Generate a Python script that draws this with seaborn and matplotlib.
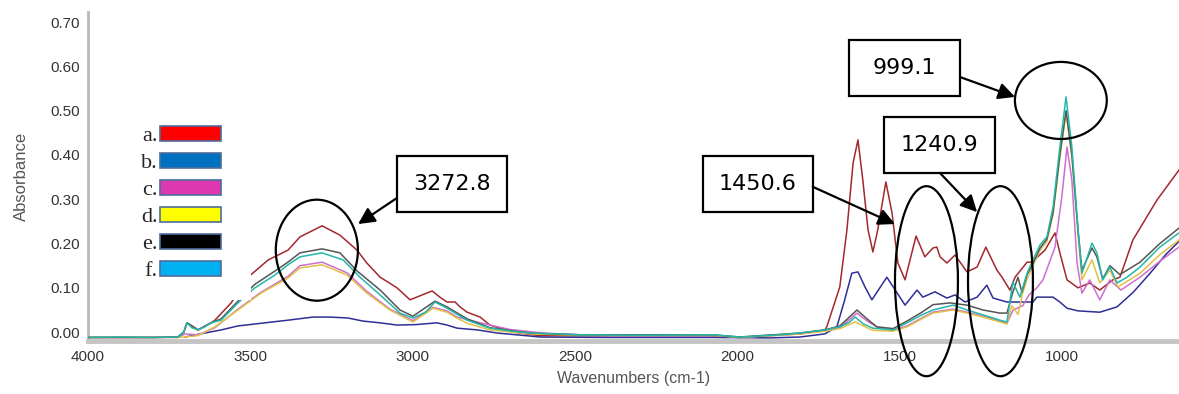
import matplotlib
matplotlib.use('Agg')
import numpy as np
import pandas as pd
import matplotlib.pyplot as plt
import matplotlib.patches as mpatches
from matplotlib.ticker import MultipleLocator, FormatStrFormatter
import seaborn as sns

# FTIR spectra, wavenumber (cm-1) vs absorbance
wn_a = [4000, 3800, 3723, 3705, 3695, 3661, 3621, 3609, 3559, 3507,
        3445, 3384, 3347, 3279, 3224, 3171, 3141, 3100, 3048, 3008,
        2940, 2916, 2894, 2869, 2854, 2832, 2792, 2762, 2691, 2608,
        2484, 2075, 1992, 1807, 1730, 1724, 1684, 1662, 1643, 1628,
        1613, 1597, 1582, 1567, 1542, 1523, 1505, 1483, 1449, 1422,
        1397, 1385, 1375, 1354, 1329, 1292, 1261, 1234, 1200, 1184,
        1160, 1144, 1107, 1092, 1052, 1021, 1006, 984, 950, 914,
        883, 843, 821, 781, 707, 639]
ab_a = [-0.012, -0.012, -0.011, 0.0, 0.021, 0.005, 0.021, 0.027, 0.066, 0.124,
        0.163, 0.185, 0.215, 0.240, 0.219, 0.185, 0.156, 0.124, 0.100, 0.073,
        0.093, 0.079, 0.068, 0.068, 0.057, 0.045, 0.034, 0.016, 0.000, -0.008,
        -0.008, -0.008, -0.012, -0.004, 0.005, 0.012, 0.102, 0.231, 0.382, 0.434,
        0.343, 0.231, 0.181, 0.231, 0.339, 0.269, 0.156, 0.118, 0.217, 0.170,
        0.190, 0.192, 0.170, 0.156, 0.174, 0.136, 0.147, 0.192, 0.140, 0.124,
        0.095, 0.124, 0.158, 0.158, 0.185, 0.224, 0.179, 0.118, 0.100, 0.111,
        0.095, 0.118, 0.124, 0.208, 0.298, 0.366]

wn_b = [3701, 3640, 3590, 3538, 3467, 3384, 3307, 3255, 3200, 3153,
        3100, 3048, 2990, 2925, 2894, 2863, 2800, 2740, 2650, 2608,
        2400, 2075, 1900, 1807, 1730, 1693, 1670, 1647, 1628, 1605,
        1585, 1539, 1483, 1446, 1428, 1391, 1354, 1329, 1298, 1261,
        1231, 1212, 1169, 1120, 1089, 1077, 1027, 1006, 984, 950,
        883, 830, 780, 728, 680, 639]
ab_b = [-0.011, -0.002, 0.005, 0.014, 0.020, 0.027, 0.034, 0.034, 0.032, 0.025,
        0.021, 0.016, 0.017, 0.021, 0.016, 0.009, 0.005, -0.002, -0.008, -0.011,
        -0.012, -0.012, -0.013, -0.011, -0.004, 0.012, 0.070, 0.133, 0.136, 0.100,
        0.073, 0.124, 0.061, 0.095, 0.079, 0.091, 0.077, 0.084, 0.068, 0.079,
        0.106, 0.077, 0.068, 0.068, 0.068, 0.079, 0.079, 0.068, 0.054, 0.048,
        0.045, 0.057, 0.090, 0.133, 0.175, 0.205]

wn_c = [4000, 3800, 3723, 3701, 3661, 3609, 3538, 3467, 3384, 3347,
        3279, 3202, 3141, 3070, 2999, 2937, 2894, 2863, 2792, 2700,
        2600, 2484, 2075, 1992, 1807, 1730, 1684, 1631, 1600, 1570,
        1520, 1477, 1431, 1397, 1335, 1292, 1243, 1191, 1169, 1150,
        1120, 1100, 1077, 1058, 1021, 1000, 984, 969, 953, 938,
        914, 883, 852, 818, 759, 698, 639]
ab_c = [-0.012, -0.012, -0.012, -0.004, -0.006, 0.010, 0.052, 0.090, 0.126, 0.150,
        0.158, 0.134, 0.092, 0.052, 0.026, 0.056, 0.048, 0.034, 0.021, 0.006,
        -0.002, -0.006, -0.007, -0.012, -0.003, 0.003, 0.010, 0.043, 0.025, 0.012,
        0.004, 0.014, 0.032, 0.045, 0.052, 0.045, 0.036, 0.025, 0.020, 0.050,
        0.060, 0.085, 0.100, 0.118, 0.192, 0.305, 0.418, 0.343, 0.156, 0.088,
        0.118, 0.073, 0.118, 0.095, 0.124, 0.160, 0.192]

wn_d = [4000, 3800, 3723, 3661, 3609, 3538, 3467, 3384, 3347, 3279,
        3202, 3141, 3070, 2999, 2937, 2894, 2869, 2832, 2762, 2638,
        2484, 2075, 1992, 1807, 1730, 1684, 1637, 1600, 1582, 1520,
        1477, 1431, 1397, 1335, 1292, 1243, 1191, 1169, 1154, 1135,
        1120, 1107, 1089, 1067, 1046, 1027, 1006, 987, 969, 950,
        938, 907, 883, 852, 827, 759, 698, 639]
ab_d = [-0.012, -0.012, -0.012, -0.008, 0.012, 0.050, 0.088, 0.122, 0.145, 0.152,
        0.129, 0.088, 0.050, 0.023, 0.054, 0.045, 0.034, 0.020, 0.005, -0.004,
        -0.007, -0.007, -0.012, -0.004, 0.002, 0.008, 0.023, 0.010, 0.004, 0.002,
        0.012, 0.030, 0.043, 0.050, 0.043, 0.034, 0.023, 0.018, 0.060, 0.040,
        0.090, 0.120, 0.150, 0.185, 0.205, 0.265, 0.395, 0.495, 0.395, 0.220,
        0.118, 0.163, 0.111, 0.140, 0.102, 0.133, 0.175, 0.208]

wn_e = [4000, 3800, 3723, 3705, 3695, 3661, 3621, 3590, 3538, 3486,
        3424, 3384, 3347, 3279, 3224, 3171, 3100, 3039, 2999, 2931,
        2894, 2832, 2762, 2638, 2484, 2075, 1992, 1807, 1730, 1684,
        1631, 1600, 1570, 1520, 1477, 1431, 1397, 1345, 1292, 1243,
        1191, 1169, 1151, 1135, 1123, 1107, 1089, 1067, 1046, 1027,
        1006, 987, 969, 950, 938, 907, 892, 874, 852, 821,
        759, 698, 639]
ab_e = [-0.012, -0.012, -0.011, 0.0, 0.021, 0.005, 0.021, 0.030, 0.070, 0.108,
        0.138, 0.158, 0.179, 0.188, 0.179, 0.138, 0.095, 0.050, 0.036, 0.070,
        0.057, 0.030, 0.010, -0.002, -0.006, -0.006, -0.011, -0.002, 0.005, 0.014,
        0.050, 0.030, 0.012, 0.008, 0.025, 0.045, 0.062, 0.066, 0.061, 0.050,
        0.043, 0.043, 0.090, 0.124, 0.090, 0.130, 0.155, 0.190, 0.210, 0.270,
        0.400, 0.500, 0.400, 0.230, 0.140, 0.190, 0.170, 0.120, 0.150, 0.130,
        0.158, 0.200, 0.235]

wn_f = [4000, 3900, 3800, 3723, 3705, 3695, 3680, 3661, 3640, 3621,
        3590, 3538, 3486, 3424, 3384, 3347, 3279, 3214, 3162, 3100,
        3039, 2999, 2960, 2931, 2894, 2832, 2762, 2691, 2638, 2484,
        2300, 2075, 1992, 1868, 1807, 1730, 1684, 1655, 1637, 1610,
        1582, 1520, 1477, 1431, 1397, 1335, 1292, 1243, 1191, 1169,
        1151, 1129, 1107, 1089, 1067, 1046, 1027, 1006, 987, 969,
        950, 938, 907, 892, 874, 852, 830, 799, 759, 698,
        639]
ab_f = [-0.012, -0.011, -0.012, -0.011, 0.000, 0.021, 0.010, 0.005, 0.012, 0.021,
        0.027, 0.066, 0.100, 0.129, 0.152, 0.170, 0.179, 0.163, 0.124, 0.084,
        0.043, 0.032, 0.045, 0.068, 0.054, 0.027, 0.009, 0.002, -0.002, -0.006,
        -0.007, -0.006, -0.011, -0.006, -0.002, 0.005, 0.012, 0.022, 0.034, 0.018,
        0.009, 0.005, 0.021, 0.039, 0.050, 0.061, 0.050, 0.039, 0.027, 0.023,
        0.113, 0.079, 0.133, 0.163, 0.197, 0.215, 0.282, 0.418, 0.531, 0.418,
        0.231, 0.133, 0.201, 0.179, 0.118, 0.147, 0.111, 0.124, 0.147, 0.192,
        0.224]

samples = ['a.', 'b.', 'c.', 'd.', 'e.', 'f.']
line_colors = ['#a3282e', '#2e2f96', '#cc6fd0', '#e3c146', '#555555', '#22b7aa']
legend_colors = ['#ff0000', '#0070c0', '#dd38b0', '#ffff00', '#000000', '#00b0f0']

peak_labels = ['3272.8', '1450.6', '1240.9', '999.1']

frames = []
for s, wn, ab in zip(samples, [wn_a, wn_b, wn_c, wn_d, wn_e, wn_f],
                     [ab_a, ab_b, ab_c, ab_d, ab_e, ab_f]):
    frames.append(pd.DataFrame({'wavenumber': wn, 'absorbance': ab, 'sample': s}))
df = pd.concat(frames, ignore_index=True)

sns.set_style('white')
plt.rcParams['font.family'] = ['Liberation Sans', 'DejaVu Sans']

fig = plt.figure(figsize=(11.79, 3.94), dpi=100)
ax = fig.add_axes([88 / 1179, 53 / 394, 1091 / 1179, 329 / 394])

sns.lineplot(data=df, x='wavenumber', y='absorbance', hue='sample',
             hue_order=samples, palette=dict(zip(samples, line_colors)),
             estimator=None, sort=False, lw=1.1, legend=False, ax=ax)

ax.set_xlim(4000, 639)
ax.set_ylim(-0.02, 0.7227)

ax.xaxis.set_major_locator(MultipleLocator(500))
ax.xaxis.set_minor_locator(MultipleLocator(100))
ax.yaxis.set_major_locator(MultipleLocator(0.1))
ax.yaxis.set_minor_locator(MultipleLocator(0.01))
ax.yaxis.set_major_formatter(FormatStrFormatter('%.2f'))

ax.tick_params(axis='both', which='major', labelsize=11, labelcolor='#333333',
               color='#444444', length=5, width=1, direction='inout')
ax.tick_params(axis='both', which='minor', color='#555555', length=3, width=0.8,
               direction='inout')
ax.tick_params(axis='x', which='major', pad=4)
ax.tick_params(axis='y', which='major', pad=3)

for side in ['top', 'right']:
    ax.spines[side].set_visible(False)
ax.spines['bottom'].set_color('#c4c4c4')
ax.spines['bottom'].set_linewidth(3.5)
ax.spines['bottom'].set_zorder(0.5)
ax.spines['left'].set_color('#b8b8b8')
ax.spines['left'].set_linewidth(2)
ax.spines['left'].set_zorder(0.5)

ax.set_xlabel('Wavenumbers (cm-1)', fontsize=11.5, color='#555555', labelpad=5)
ax.set_ylabel('Absorbance', fontsize=12, color='#555555', labelpad=16)

# white panel behind the legend (covers the curves like in the original)
ax.add_patch(mpatches.Rectangle((0.0367, 0.1246), 0.1127, 0.5623,
                                transform=ax.transAxes, facecolor='white',
                                edgecolor='none', zorder=3))

handles = [mpatches.Patch(facecolor=c, edgecolor='#4f6d9c', lw=1.2, label=s)
           for s, c in zip(samples, legend_colors)]
leg = ax.legend(handles=handles, loc='upper left', bbox_to_anchor=(0.0487, 0.652),
                markerfirst=False, frameon=False,
                prop={'family': ['Liberation Serif', 'DejaVu Serif'], 'size': 16},
                handlelength=2.75, handleheight=0.6, handletextpad=0.1,
                labelspacing=0.32, borderaxespad=0, borderpad=0)
leg.set_zorder(5)

# peak marks: ellipse (center, width, height in data units)
ellipses = [((3295, 0.185), 253, 0.228),
            ((1417, 0.115), 194, 0.429),
            ((1189, 0.115), 200, 0.429),
            ((1003, 0.523), 283, 0.174)]
for (cx, cy), w, h in ellipses:
    ax.add_patch(mpatches.Ellipse((cx, cy), w, h, fill=False, edgecolor='black',
                                  lw=1.6, clip_on=False, zorder=6))

# label boxes (wn_high, wn_low, abs_low, abs_high) and arrows (start, tip)
boxes = [(3048, 2709, 0.271, 0.398),
         (2105, 1767, 0.271, 0.398),
         (1548, 1206, 0.359, 0.486),
         (1656, 1314, 0.533, 0.659)]
arrows = [((3048, 0.303), (3168, 0.244)),
          ((1767, 0.328), (1514, 0.244)),
          ((1375, 0.359), (1261, 0.271)),
          ((1314, 0.576), (1144, 0.531))]
for lab, (x1, x2, y1, y2), (start, tip) in zip(peak_labels, boxes, arrows):
    ax.add_patch(mpatches.Rectangle((x2, y1), x1 - x2, y2 - y1, facecolor='white',
                                    edgecolor='black', lw=1.6, clip_on=False, zorder=6))
    ax.text((x1 + x2) / 2, (y1 + y2) / 2, lab, ha='center', va='center',
            fontsize=16, family=['DejaVu Sans'], color='black', zorder=7)
    ax.annotate('', xy=tip, xytext=start, annotation_clip=False, zorder=6,
                arrowprops=dict(arrowstyle='-|>', color='black', lw=1.6,
                                mutation_scale=25, shrinkA=0, shrinkB=0))

fig.savefig('out.png', dpi=100, facecolor='white')
